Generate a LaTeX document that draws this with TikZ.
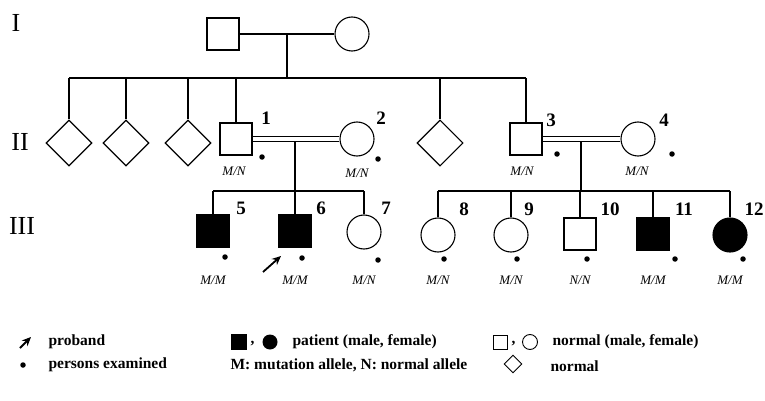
\documentclass[tikz,border=0pt]{standalone}
\usepackage{fontspec}
\setmainfont{Latin Modern Roman}
\newfontfamily\tnr{Liberation Serif}
\usetikzlibrary{shapes.geometric,arrows.meta}
\begin{document}
\begin{tikzpicture}[x=1pt,y=-1pt,line width=1.1pt,
  male/.style={draw,rectangle,minimum size=32pt,inner sep=0pt},
  female/.style={draw,circle,minimum size=34pt,inner sep=0pt},
  unk/.style={draw,diamond,minimum size=46pt,inner sep=0pt},
  aff/.style={fill=black},
  num/.style={font=\tnr\fontsize{19}{19}\selectfont\bfseries,inner sep=0pt},
  gt/.style={font=\tnr\fontsize{13}{13}\selectfont\itshape,inner sep=0pt},
  exdot/.style={circle,fill=black,inner sep=0pt,minimum size=5.5pt},
  gen/.style={font=\tnr\fontsize{26}{26}\selectfont,inner sep=0pt},
  leg/.style={font=\tnr\fontsize{15.5}{16}\selectfont\bfseries,inner sep=0pt,anchor=west},
  prob/.style={-{Stealth[length=9pt,width=8pt]},line width=1.8pt}]
\useasboundingbox[fill=white] (0,0) rectangle (765,401);

% generation labels
\node[gen] (gI) at (16,23) {I};
\node[gen] (gII) at (20,142) {II};
\node[gen] (gIII) at (22,226) {III};

% generation I
\node[male] (i1) at (223,34) {};
\node[female] (i2) at (352,34) {};
\draw (i1) -- (i2);
\coordinate (m1) at (287,34);
\coordinate (s1) at (287,78);
\coordinate (sL) at (69,78);
\coordinate (sR) at (526,78);
\draw (m1) -- (s1);
\draw (sL) -- (sR);

% generation II
\node[unk] (d1) at (69,143) {};
\node[unk] (d2) at (126,143) {};
\node[unk] (d3) at (188,143) {};
\node[unk] (d4) at (440,143) {};
\node[male] (ii1) at (236,139) {};
\node[female] (ii2) at (357,139) {};
\node[male] (ii3) at (526,139) {};
\node[female] (ii4) at (638,139) {};
\foreach \n in {d1,d2,d3,d4,ii1,ii3} \draw (\n.north |- s1) -- (\n.north);

% consanguineous marriages (double lines)
\draw ([yshift=-2.6pt]ii1.east) -- ([yshift=-2.6pt]ii2.west);
\draw ([yshift=2.6pt]ii1.east) -- ([yshift=2.6pt]ii2.west);
\draw ([yshift=-2.6pt]ii3.east) -- ([yshift=-2.6pt]ii4.west);
\draw ([yshift=2.6pt]ii3.east) -- ([yshift=2.6pt]ii4.west);

\node[num] (n1) at (266,118) {1};
\node[num] (n2) at (381,118) {2};
\node[num] (n3) at (551,120) {3};
\node[num] (n4) at (664,120) {4};
\node[exdot] (e1) at (262,157) {};
\node[exdot] (e2) at (378,159) {};
\node[exdot] (e3) at (557,154) {};
\node[exdot] (e4) at (672,154) {};
\node[gt] (g1) at (234,171) {M/N};
\node[gt] (g2) at (357,173) {M/N};
\node[gt] (g3) at (522,171) {M/N};
\node[gt] (g4) at (637,171) {M/N};

% descent lines
\coordinate (m2) at (295,141.6);
\coordinate (s2) at (295,191);
\coordinate (m3) at (581,141.6);
\coordinate (s3) at (581,191);
\draw (m2) -- (s2);
\draw (m3) -- (s3);

% generation III
\node[male,aff] (iii5) at (213,231) {};
\node[male,aff] (iii6) at (295,231) {};
\node[female] (iii7) at (364,232) {};
\node[female] (iii8) at (438,235) {};
\node[female] (iii9) at (511,235) {};
\node[male] (iii10) at (580,234) {};
\node[male,aff] (iii11) at (653,234) {};
\node[female,aff] (iii12) at (730,235) {};

\draw (iii5.north |- s2) -- (iii7.north |- s2);
\draw (iii8.north |- s3) -- (iii12.north |- s3);
\foreach \n in {iii5,iii6,iii7} \draw (\n.north |- s2) -- (\n.north);
\foreach \n in {iii8,iii9,iii10,iii11,iii12} \draw (\n.north |- s3) -- (\n.north);

\node[num] (n5) at (241,208) {5};
\node[num] (n6) at (321,208) {6};
\node[num] (n7) at (386,208) {7};
\node[num] (n8) at (464,209) {8};
\node[num] (n9) at (529,209) {9};
\node[num] (n10) at (610,209) {10};
\node[num] (n11) at (684,209) {11};
\node[num] (n12) at (754,209) {12};

\node[exdot] (e5) at (225,257) {};
\node[exdot] (e6) at (302,258) {};
\node[exdot] (e7) at (378,260) {};
\node[exdot] (e8) at (444,259) {};
\node[exdot] (e9) at (517,259) {};
\node[exdot] (e10) at (587,259) {};
\node[exdot] (e11) at (675,259) {};
\node[exdot] (e12) at (743,259) {};

\node[gt] (g5) at (213,280) {M/M};
\node[gt] (g6) at (295,280) {M/M};
\node[gt] (g7) at (364,280) {M/N};
\node[gt] (g8) at (438,280) {M/N};
\node[gt] (g9) at (511,280) {M/N};
\node[gt] (g10) at (580,280) {N/N};
\node[gt] (g11) at (653,280) {M/M};
\node[gt] (g12) at (730,280) {M/M};

% proband arrow
\coordinate (pa) at (263,272);
\coordinate (pb) at (281,256);
\draw[prob] (pa) -- (pb);

% legend
\coordinate (la) at (20,348);
\coordinate (lb) at (31,337);
\draw[prob] (la) -- (lb);
\node[leg] (tprob) at (48,342) {proband};
\node[exdot] (ldot) at (23,365) {};
\node[leg] (texam) at (48,365) {persons examined};

\node[draw,fill=black,minimum size=14pt,inner sep=0pt] (lsq1) at (239,342) {};
\node[leg] (lc1) at (250,344) {,};
\node[circle,fill=black,minimum size=15pt,inner sep=0pt] (lci1) at (270,342) {};
\node[leg] (tpat) at (292,342) {patient (male, female)};
\node[leg] (tmn) at (230,365) {M: mutation allele, N: normal allele};

\node[draw,minimum size=14pt,inner sep=0pt,line width=0.9pt] (lsq2) at (500,342) {};
\node[leg] (lc2) at (511,344) {,};
\node[draw,circle,minimum size=15pt,inner sep=0pt,line width=0.9pt] (lci2) at (530,342) {};
\node[leg] (tnorm) at (552,342) {normal (male, female)};
\node[draw,diamond,minimum size=18pt,inner sep=0pt,line width=0.9pt] (ldia) at (513,364) {};
\node[leg] (tnorm2) at (550,366) {normal};
\end{tikzpicture}
\end{document}
